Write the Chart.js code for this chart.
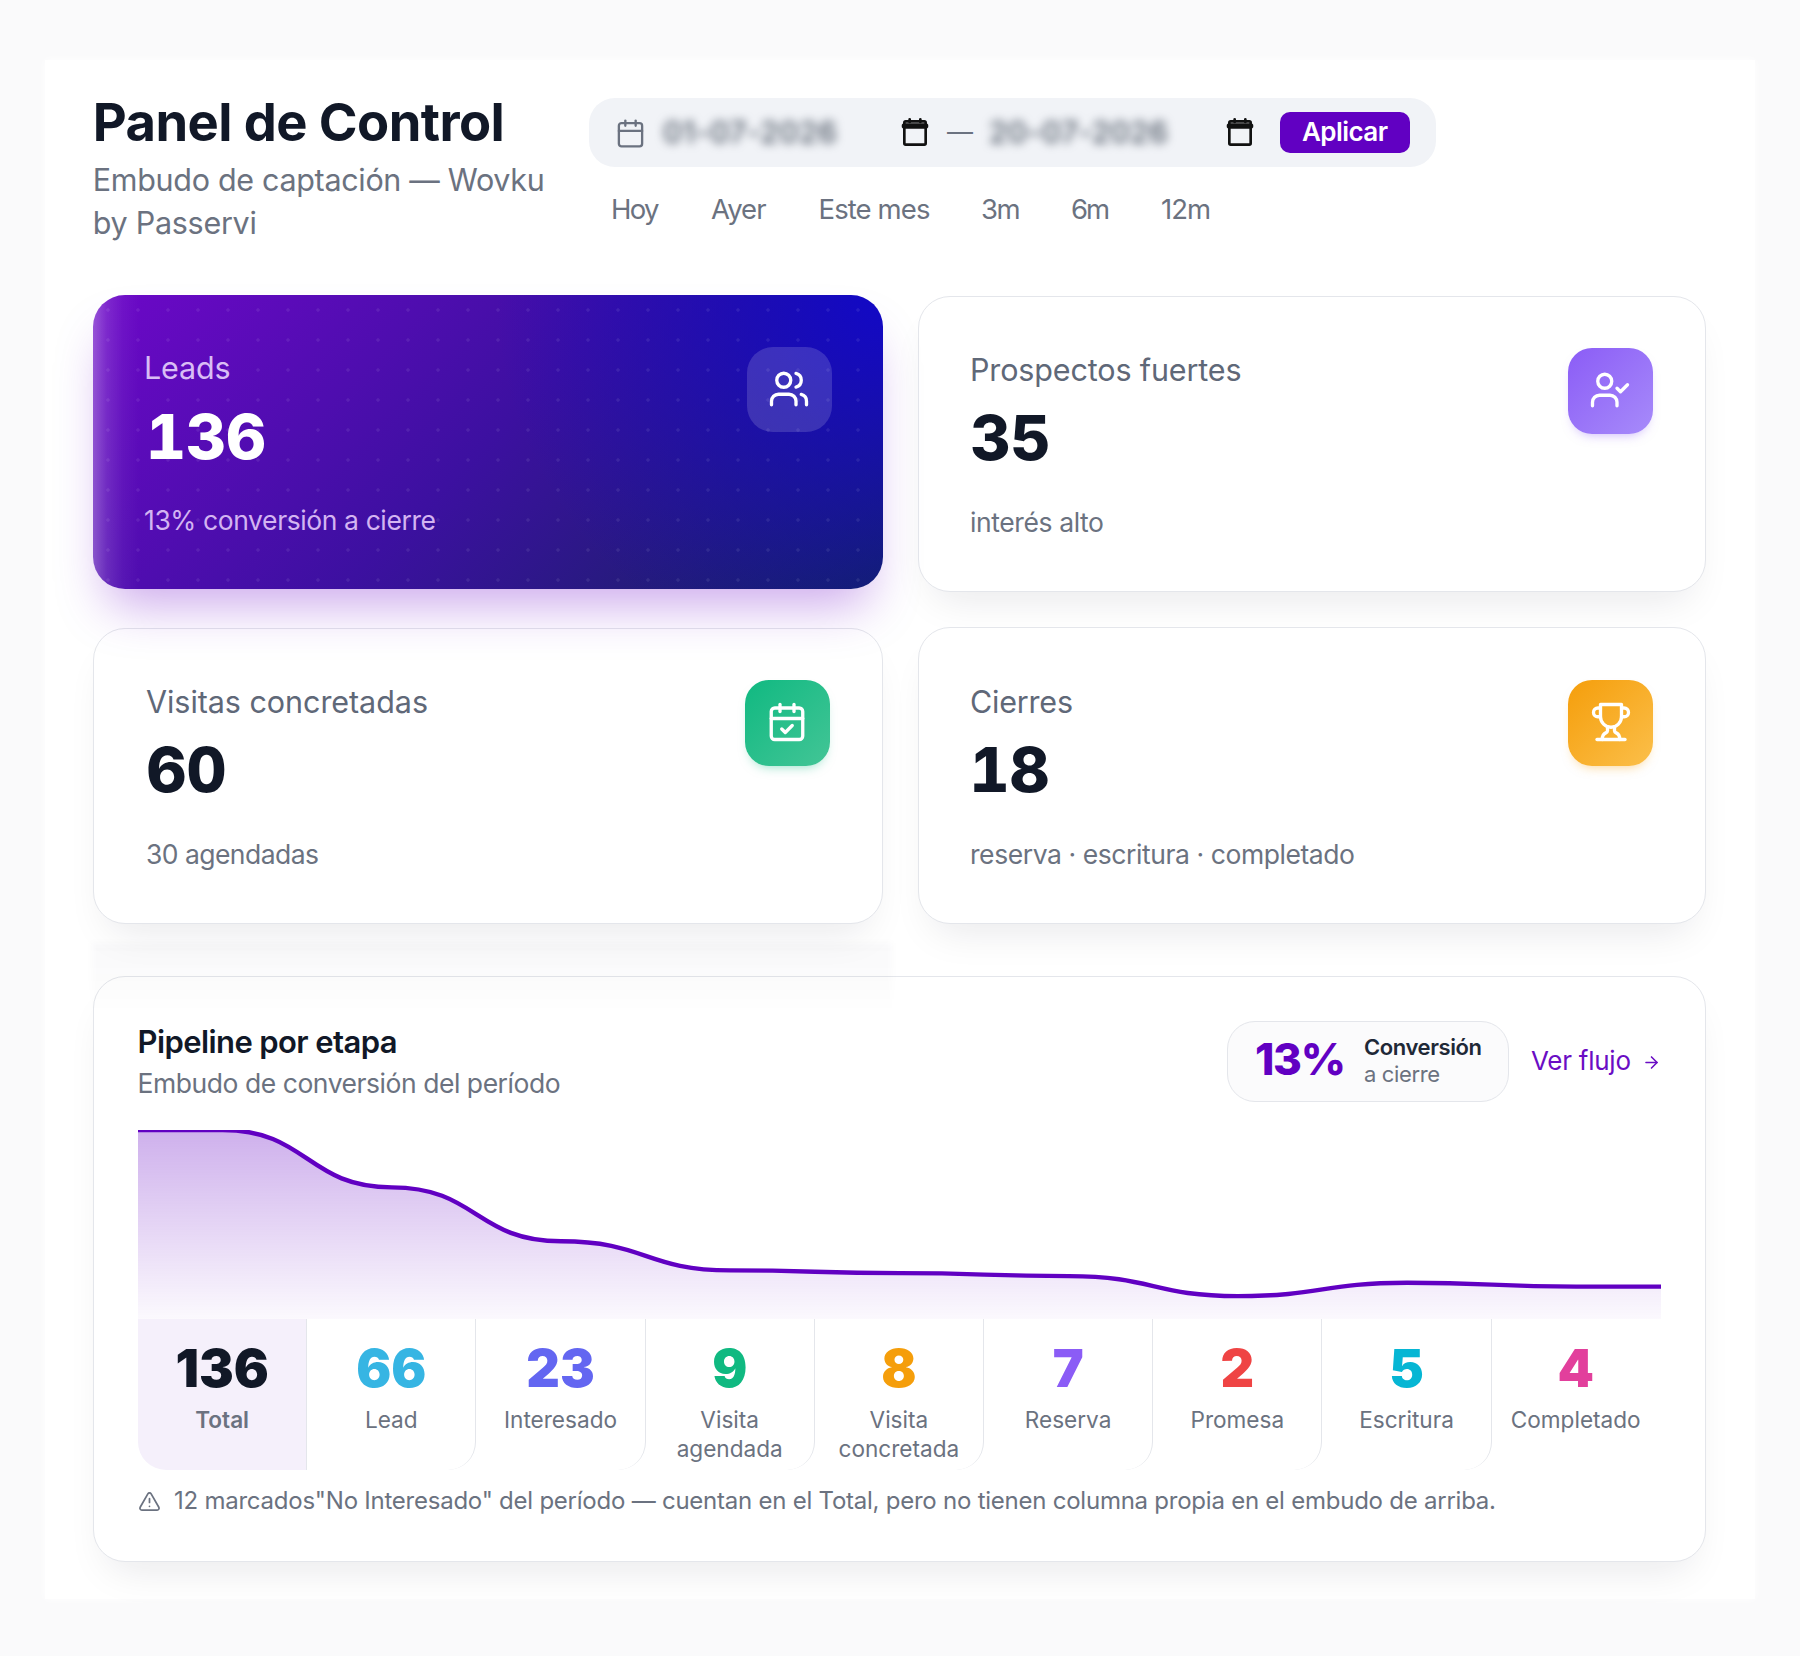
<!DOCTYPE html>
<html lang="es">
<head>
<meta charset="utf-8">
<title>Panel de Control</title>
<script src="https://cdn.jsdelivr.net/npm/chart.js@4"></script>
<style>
html,body{margin:0;padding:0;background:#fafafb}
#root{position:relative;width:1800px;height:1656px;overflow:hidden;font-family:Inter,"Noto Sans",sans-serif;background:#fafafb}
.box{position:absolute;box-sizing:border-box}
.txt{position:absolute;white-space:nowrap;line-height:0;z-index:6}
.card{background:#fff;border:1.5px solid #e4e6eb;border-radius:32px;box-shadow:0 22px 40px -16px rgba(15,23,42,.10)}
.ic{position:absolute;fill:none;stroke-linecap:round;stroke-linejoin:round;z-index:6}
#chartWrap{position:absolute;left:138px;top:1120px;width:1523px;height:199px;z-index:3}
.cell{position:absolute;top:1319px;height:151px;width:169.2px;box-sizing:border-box;border-right:1.5px solid #e4e6eb;border-bottom-right-radius:28px;z-index:2}
</style>
</head>
<body>
<div id="root">
  <div class="box" style="left:45px;top:60px;width:1710px;height:1539px;background:#fff;box-shadow:0 0 8px #fff"></div>

  <div class="box" style="left:589px;top:98px;width:847px;height:69px;background:#f1f3f7;border-radius:26px"></div>
  <div class="box" style="left:1280px;top:112px;width:130px;height:41px;background:#6100c2;border-radius:10px;z-index:3"></div>

  <div class="box" style="left:93px;top:295px;width:790px;height:294px;border-radius:32px;z-index:4;
    background:
      radial-gradient(circle,rgba(255,255,255,.08) 1.4px,transparent 2px) 0 0/30px 30px,
      linear-gradient(to right,rgba(255,255,255,.30),rgba(255,255,255,.13) 14px,rgba(255,255,255,.04) 30px,rgba(255,255,255,0) 46px),
      radial-gradient(circle at 100% 0,#1208c6 0,rgba(18,8,198,0) 46%),
      linear-gradient(135deg,#6d08c8 0%,#3c10a0 50%,#12245e 100%);
    box-shadow:0 30px 50px -14px rgba(106,0,200,.34)"></div>
  <div class="box" style="left:747px;top:347px;width:85px;height:85px;border-radius:26px;background:rgba(255,255,255,.15);z-index:5"></div>

  <div class="box card" style="left:918px;top:296px;width:788px;height:296px"></div>
  <div class="box card" style="left:93px;top:628px;width:790px;height:296px"></div>
  <div class="box card" style="left:918px;top:627px;width:788px;height:297px"></div>

  <div class="box" style="left:1567.5px;top:348px;width:85px;height:86px;border-radius:24px;background:linear-gradient(135deg,#8b5cf6,#a78bfa);box-shadow:0 6px 12px -6px rgba(139,92,246,.5);z-index:5"></div>
  <div class="box" style="left:744.5px;top:680px;width:85.5px;height:86px;border-radius:24px;background:linear-gradient(135deg,#10b981,#43c596);box-shadow:0 6px 12px -6px rgba(16,185,129,.5);z-index:5"></div>
  <div class="box" style="left:1567.5px;top:680px;width:85px;height:86px;border-radius:24px;background:linear-gradient(135deg,#f59e0b,#fbbf4a);box-shadow:0 6px 12px -6px rgba(245,158,11,.5);z-index:5"></div>

  <div class="box card" style="left:93px;top:976px;width:1613px;height:586px"></div>
  <div class="box" style="left:92px;top:943px;width:800px;height:70px;background:linear-gradient(to bottom,rgba(15,23,42,.024),rgba(15,23,42,.016) 48%,rgba(15,23,42,0));filter:blur(3px);z-index:2"></div>

  <div class="box" style="left:1227px;top:1021px;width:282px;height:81px;border:1.5px solid #e4e6eb;border-radius:28px;background:#fbfbfc;z-index:3"></div>

  <div id="chartWrap"><canvas id="funnel"></canvas></div>
</div>

<script>
const stageLabels = [["Total"],["Lead"],["Interesado"],["Visita","agendada"],["Visita","concretada"],["Reserva"],["Promesa"],["Escritura"],["Completado"]];
const stageValues = [136,66,23,9,8,7,2,5,4];
const stageColors = ["#111827","#36b5e3","#6366f1","#10b981","#f59e0b","#8b5cf6","#ef4444","#06b6d4","#e23f9c"];
const kpiLabels = ["Leads","Prospectos fuertes","Visitas concretadas","Cierres"];
const kpiValues = ["136","35","60","18"];
const kpiNotes = ["13% conversión a cierre","interés alto","30 agendadas","reserva · escritura · completado"];
const rangeLabels = ["Hoy","Ayer","Este mes","3m","6m","12m"];

const root = document.getElementById('root');
const fits = [];
function T(text, x, base, size, color, weight, opts){
  opts = opts || {};
  const s = document.createElement('div');
  s.className = 'txt';
  s.textContent = text;
  s.style.cssText = `left:${x}px;top:${base-0.364*size}px;font-size:${size}px;color:${color};font-weight:${weight};`;
  if(opts.center) s.style.transform = 'translateX(-50%)';
  if(opts.blur) s.style.filter = `blur(${opts.blur}px)`;
  if(opts.tab) s.style.fontVariantNumeric = 'tabular-nums';
  root.appendChild(s);
  if(opts.w) fits.push([s,opts.w,text.length]);
  return s;
}
function I(inner, x, y, size, color, sw){
  const n = 'http://www.w3.org/2000/svg';
  const v = document.createElementNS(n,'svg');
  v.setAttribute('viewBox','0 0 24 24');
  v.setAttribute('class','ic');
  v.setAttribute('width',size); v.setAttribute('height',size);
  v.style.left = x+'px'; v.style.top = y+'px';
  v.style.stroke = color; v.style.strokeWidth = sw;
  v.innerHTML = inner;
  root.appendChild(v);
}
const gray = '#6b7280', grayD = '#5f6878', ink = '#111827';
T("Panel de Control",92.8,141,52.5,ink,700,{w:412});
T("Embudo de captación — Wovku",92.8,191,30.5,gray,400,{w:452});
T("by Passervi",92.8,234,30.5,gray,400,{w:164});

const rangeX = [611,711,818.5,981,1071,1161], rangeW=[48.5,55.5,112,39.5,39,50];
rangeLabels.forEach((r,i)=>T(r,rangeX[i],219,27.5,gray,400,{w:rangeW[i]}));
T("01-07-2026",663,143,30,"#4b5563",500,{w:174,blur:5});
T("20-07-2026",989,143,30,"#4b5563",500,{w:179,blur:5});
T("—",947,141,26,gray,400);
T("Aplicar",1302,141,26,"#fff",600,{w:86});

const kpiX=[144,970,146,970], kpiNX=[146,970.5,146.5,969.5];
const kpiBase=[[379.5,460,529.5],[381,461,531.5],[713,793,863.5],[713,793,863.5]];
const kpiCol=[["#d9bdf5","#fff","#d3b4f2"],[grayD,ink,gray],[grayD,ink,gray],[grayD,ink,gray]];
const kpiW=[[86.7,0,292],[271.6,0,134],[282,0,173],[103,0,385]];
kpiLabels.forEach((l,i)=>{
  T(l,kpiX[i],kpiBase[i][0],30.5,kpiCol[i][0],400,{w:kpiW[i][0]});
  T(kpiValues[i],kpiNX[i],kpiBase[i][1],i?62:62,kpiCol[i][1],800,{tab:true});
  T(kpiNotes[i],kpiX[i],kpiBase[i][2],26.5,kpiCol[i][2],400,{w:kpiW[i][2]});
});

T("Pipeline por etapa",137.6,1053,31,ink,600,{w:260});
T("Embudo de conversión del período",137.6,1092.5,26.5,gray,400,{w:423});
T("13%",1255,1075,44,"#6100c2",800,{w:91});
T("Conversión",1364,1055,22,"#1f2937",600,{w:118});
T("a cierre",1364,1082,22,gray,400,{w:76});
T("Ver flujo",1531,1070,26,"#6a0dc4",400,{w:100});
T('12 marcados"No Interesado" del período — cuentan en el Total, pero no tienen columna propia en el embudo de arriba.',174,1510,24,gray,400,{w:1322});

const cellW=169.2, cellX=138;
stageLabels.forEach((lab,i)=>{
  const c=document.createElement('div');
  c.className='cell';
  c.style.left=(cellX+i*cellW)+'px';
  if(i===0){c.style.background='#f5f0fb';c.style.borderBottomRightRadius='0';c.style.borderBottomLeftRadius='28px';}
  if(i===stageLabels.length-1){c.style.borderRight='none';}
  root.appendChild(c);
  const cx=cellX+(i+.5)*cellW-0.5;
  T(String(stageValues[i]),cx,1387.5,52,stageColors[i],900,{center:true});
  lab.forEach((ln,j)=>T(ln,cx,1428+j*29,22.6,gray,i===0?600:400,{center:true}));
});

const pUsers='<path d="M16 21v-2a4 4 0 0 0-4-4H6a4 4 0 0 0-4 4v2"/><circle cx="9" cy="7" r="4"/><path d="M22 21v-2a4 4 0 0 0-3-3.87"/><path d="M16 3.13a4 4 0 0 1 0 7.75"/>';
const pCheck='<path d="M16 21v-2a4 4 0 0 0-4-4H6a4 4 0 0 0-4 4v2"/><circle cx="9" cy="7" r="4"/><polyline points="16 11 18 13 22 9"/>';
const pCal='<path d="M8 2v4"/><path d="M16 2v4"/><rect width="18" height="18" x="3" y="4" rx="2"/><path d="M3 10h18"/>';
const pCalC=pCal+'<path d="m9 16 2 2 4-4"/>';
const pTrophy='<path d="M6 9H4.5a2.5 2.5 0 0 1 0-5H6"/><path d="M18 9h1.5a2.5 2.5 0 0 0 0-5H18"/><path d="M4 22h16"/><path d="M10 14.66V17c0 .55-.47.98-.97 1.21C7.85 18.75 7 20.24 7 22"/><path d="M14 14.66V17c0 .55.47.98.97 1.21C16.15 18.75 17 20.24 17 22"/><path d="M18 2H6v7a6 6 0 0 0 12 0V2Z"/>';
const pWarn='<path d="m21.73 18-8-14a2 2 0 0 0-3.46 0l-8 14A2 2 0 0 0 4 21h16a2 2 0 0 0 1.73-3Z"/><path d="M12 9v4"/><path d="M12 17h.01"/>';
const pNative='<rect x="4" y="4" width="16" height="17.5" rx="1"/><path d="M4 7.5h16" stroke-width="4"/><path d="M8 2.5v2M16 2.5v2"/>';
I(pUsers,768,368,42,"#fff",1.9);
I(pCheck,1589,369,42,"#fff",1.9);
I(pCalC,766,701,42,"#fff",1.9);
I(pTrophy,1590,701,42,"#fff",1.9);
I(pCal,615,118,31,gray,1.8);
I(pNative,899,116,32,"#111",2);
I(pNative,1224,116,32,"#111",2);
I(pWarn,138,1490,23,gray,1.8);
I('<path d="M5 12h14"/><path d="m12 5 7 7-7 7"/>',1642,1053,19,"#6a0dc4",2);

function applyFits(){
  fits.forEach(([el,w,n])=>{
    el.style.letterSpacing='0px';
    const m=el.getBoundingClientRect().width;
    el.style.letterSpacing=((w-m)/Math.max(n-1,1))+'px';
  });
}
if(document.fonts&&document.fonts.ready){document.fonts.ready.then(applyFits);}
applyFits();

class SqrtScale extends Chart.LinearScale{
  getPixelForValue(v){
    return this.getPixelForDecimal(Math.sqrt(Math.max(v,0))/Math.sqrt(this.max));
  }
  getValueForPixel(p){
    const d=this.getDecimalForPixel(p);
    return d*d*this.max;
  }
}
SqrtScale.id='sqrt';
SqrtScale.defaults=Chart.LinearScale.defaults;
Chart.register(SqrtScale);

const flatTangents={
  id:'flatTangents',
  afterDatasetsUpdate(chart){
    const line=chart.getDatasetMeta(0).dataset;
    line.updateControlPoints(chart.chartArea,'x');
    const pts=line.points;
    pts.forEach((p,i)=>{
      const prev=pts[i-1], next=pts[i+1];
      p.cp1x=prev?(prev.x+p.x)/2:p.x; p.cp1y=p.y;
      p.cp2x=next?(next.x+p.x)/2:p.x; p.cp2y=p.y;
    });
  }
};

const last=stageValues.length-1;
const funnelPoints=[{x:-0.5,y:stageValues[0]},...stageValues.map((y,x)=>({x,y})),{x:last+0.5,y:stageValues[last]}];

new Chart(document.getElementById('funnel'),{
  type:'line',
  data:{datasets:[{
    data:funnelPoints,
    borderColor:'#6100c2',
    borderWidth:4.4,
    tension:0.4,
    pointRadius:0,
    fill:'origin',
    backgroundColor(ctx){
      const a=ctx.chart.chartArea;
      if(!a) return 'rgba(97,0,194,.3)';
      const g=ctx.chart.ctx.createLinearGradient(0,a.top,0,a.bottom);
      g.addColorStop(0,'rgba(97,0,194,.31)');
      g.addColorStop(1,'rgba(97,0,194,.025)');
      return g;
    }
  }]},
  options:{
    responsive:true,
    maintainAspectRatio:false,
    animation:false,
    layout:{padding:{top:10,left:0,right:0,bottom:0}},
    plugins:{legend:{display:false},tooltip:{enabled:false}},
    scales:{
      x:{type:'linear',min:-0.5,max:last+0.5,display:false},
      y:{type:'sqrt',min:0,max:136,display:false}
    }
  },
  plugins:[flatTangents]
});
</script>
</body>
</html>
